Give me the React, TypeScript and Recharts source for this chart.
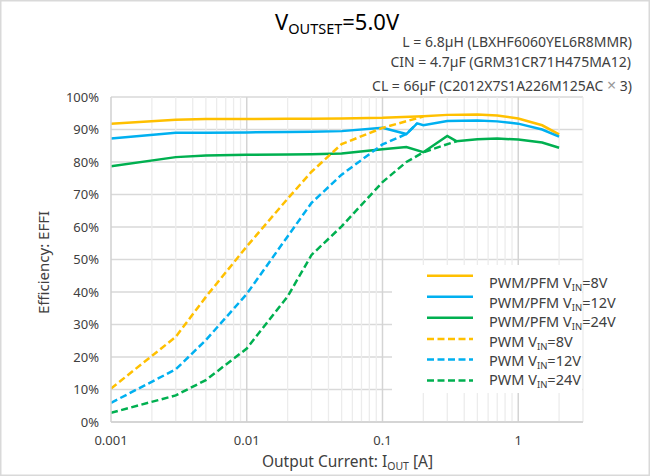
import React from 'react';
import { LineChart, Line, XAxis, YAxis, CartesianGrid, ReferenceLine } from 'recharts';

const FONT = "'Noto Sans', sans-serif";

const X_TICKS = [0.001, 0.01, 0.1, 1];
const Y_TICKS = [0, 10, 20, 30, 40, 50, 60, 70, 80, 90, 100];
const MAJOR_X = [0.01, 0.1, 1];
const MINOR_X = [
  0.002, 0.003, 0.004, 0.005, 0.006, 0.007, 0.008, 0.009,
  0.02, 0.03, 0.04, 0.05, 0.06, 0.07, 0.08, 0.09,
  0.2, 0.3, 0.4, 0.5, 0.6, 0.7, 0.8, 0.9,
  2, 3,
];

const pfm8 = [
  { x: 0.001, y: 91.8 }, { x: 0.003, y: 93.0 }, { x: 0.005, y: 93.2 }, { x: 0.01, y: 93.2 },
  { x: 0.02, y: 93.3 }, { x: 0.03, y: 93.3 }, { x: 0.05, y: 93.4 }, { x: 0.1, y: 93.6 },
  { x: 0.2, y: 94.1 }, { x: 0.3, y: 94.5 }, { x: 0.5, y: 94.6 }, { x: 0.7, y: 94.3 },
  { x: 1, y: 93.4 }, { x: 1.5, y: 91.3 }, { x: 2, y: 88.5 },
];
const pfm12 = [
  { x: 0.001, y: 87.2 }, { x: 0.003, y: 89.0 }, { x: 0.005, y: 89.0 }, { x: 0.01, y: 89.1 },
  { x: 0.02, y: 89.2 }, { x: 0.03, y: 89.3 }, { x: 0.05, y: 89.5 }, { x: 0.1, y: 90.5 },
  { x: 0.15, y: 88.6 }, { x: 0.18, y: 91.9 }, { x: 0.2, y: 91.3 }, { x: 0.3, y: 92.6 },
  { x: 0.5, y: 92.8 }, { x: 0.7, y: 92.5 }, { x: 1, y: 91.8 }, { x: 1.5, y: 90.0 }, { x: 2, y: 87.8 },
];
const pfm24 = [
  { x: 0.001, y: 78.7 }, { x: 0.003, y: 81.5 }, { x: 0.005, y: 82.0 }, { x: 0.01, y: 82.2 },
  { x: 0.02, y: 82.3 }, { x: 0.03, y: 82.4 }, { x: 0.05, y: 82.6 }, { x: 0.1, y: 83.9 },
  { x: 0.15, y: 84.6 }, { x: 0.2, y: 83.0 }, { x: 0.3, y: 88.0 }, { x: 0.35, y: 86.4 },
  { x: 0.5, y: 87.0 }, { x: 0.7, y: 87.2 }, { x: 1, y: 86.9 }, { x: 1.5, y: 86.0 }, { x: 2, y: 84.4 },
];
const pwm8 = [
  { x: 0.001, y: 10.3 }, { x: 0.003, y: 26.2 }, { x: 0.005, y: 38.5 }, { x: 0.01, y: 54.0 },
  { x: 0.02, y: 68.7 }, { x: 0.03, y: 77.0 }, { x: 0.05, y: 85.5 }, { x: 0.1, y: 90.5 },
  { x: 0.2, y: 94.0 },
];
const pwm12 = [
  { x: 0.001, y: 5.9 }, { x: 0.003, y: 16.2 }, { x: 0.005, y: 25.2 }, { x: 0.01, y: 39.4 },
  { x: 0.02, y: 57.1 }, { x: 0.03, y: 67.4 }, { x: 0.05, y: 76.1 }, { x: 0.1, y: 85.4 },
  { x: 0.15, y: 88.6 }, { x: 0.18, y: 91.9 },
];
const pwm24 = [
  { x: 0.001, y: 2.8 }, { x: 0.003, y: 8.2 }, { x: 0.005, y: 12.9 }, { x: 0.01, y: 22.6 },
  { x: 0.02, y: 38.6 }, { x: 0.03, y: 51.4 }, { x: 0.05, y: 60.2 }, { x: 0.1, y: 73.8 },
  { x: 0.15, y: 80.0 }, { x: 0.2, y: 83.0 }, { x: 0.35, y: 86.4 },
];

const ORANGE = '#FFC000';
const BLUE = '#00B0F0';
const GREEN = '#00B050';

const SERIES = [
  { key: 'pfm8', mode: 'PWM/PFM', vin: '8V', color: ORANGE, dashed: false, data: pfm8 },
  { key: 'pfm12', mode: 'PWM/PFM', vin: '12V', color: BLUE, dashed: false, data: pfm12 },
  { key: 'pfm24', mode: 'PWM/PFM', vin: '24V', color: GREEN, dashed: false, data: pfm24 },
  { key: 'pwm8', mode: 'PWM', vin: '8V', color: ORANGE, dashed: true, data: pwm8 },
  { key: 'pwm12', mode: 'PWM', vin: '12V', color: BLUE, dashed: true, data: pwm12 },
  { key: 'pwm24', mode: 'PWM', vin: '24V', color: GREEN, dashed: true, data: pwm24 },
];

const LEGEND_LINE_Y = [275.7, 296.7, 317.7, 339, 359.5, 380.5];
const LEGEND_TEXT_Y = [283, 302.5, 322, 341.5, 360.5, 380];

const TEXT = '#404040';

export default function App() {
  return (
    <div style={{ position: 'relative', width: 650, height: 476, background: '#fff', fontFamily: FONT }}>
      <style>{`body{margin:0}`}</style>
      <LineChart width={650} height={476} margin={{ top: 97, right: 67, bottom: 0, left: 0 }}>
        <CartesianGrid vertical={false} stroke="#d9d9d9" strokeWidth={1.3} />
        {MINOR_X.map((v) => (
          <ReferenceLine key={'mi' + v} x={v} stroke="#ececec" strokeWidth={1.3} />
        ))}
        {MAJOR_X.map((v) => (
          <ReferenceLine key={'ma' + v} x={v} stroke="#d4d4d4" strokeWidth={1.5} />
        ))}
        <XAxis
          dataKey="x"
          type="number"
          scale="log"
          domain={[0.001, 3]}
          allowDataOverflow
          ticks={X_TICKS}
          tickFormatter={(v) => String(v)}
          height={54}
          tickLine={false}
          tickSize={0}
          tickMargin={14}
          stroke="#d0d0d0"
          strokeWidth={1.5}
          tick={{ fill: TEXT, fontSize: 13, fontFamily: FONT }}
        />
        <YAxis
          type="number"
          domain={[0, 100]}
          ticks={Y_TICKS}
          tickFormatter={(v) => v + '%'}
          width={111}
          tickLine={false}
          tickSize={0}
          tickMargin={12}
          stroke="#d0d0d0"
          strokeWidth={1.5}
          tick={{ fill: TEXT, fontSize: 13, fontFamily: FONT }}
        />
        {SERIES.map((s) => (
          <Line
            key={s.key}
            data={s.data}
            dataKey="y"
            type="linear"
            stroke={s.color}
            strokeWidth={2.5}
            strokeDasharray={s.dashed ? '7 3.5' : undefined}
            dot={false}
            activeDot={false}
            isAnimationActive={false}
          />
        ))}
      </LineChart>
      <svg
        width={650}
        height={476}
        style={{ position: 'absolute', left: 0, top: 0, pointerEvents: 'none' }}
        fontFamily={FONT}
      >
        <rect x={0.75} y={0.75} width={648.5} height={474.5} fill="none" stroke="#d9d9d9" strokeWidth={1.5} />
        <text x={275} y={30} fontSize={22} fill="#000">
          V<tspan fontSize={14.5} dy={4}>OUTSET</tspan>
          <tspan dy={-4}>=5.0V</tspan>
        </text>
        <text x={632} y={47.3} fontSize={14} fill={TEXT} textAnchor="end">
          L = 6.8µH (LBXHF6060YEL6R8MMR)
        </text>
        <text x={631} y={66.7} fontSize={14} fill={TEXT} textAnchor="end">
          CIN = 4.7µF (GRM31CR71H475MA12)
        </text>
        <text x={632} y={90.5} fontSize={14} fill={TEXT} textAnchor="end">
          CL = 66µF (C2012X7S1A226M125AC <tspan fill="#999" fontSize={16}>×</tspan> 3)
        </text>
        <text
          x={0}
          y={0}
          fontSize={15}
          fill={TEXT}
          textAnchor="middle"
          dominantBaseline="central"
          transform="translate(43 262.5) rotate(-90)"
        >
          Efficiency: EFFI
        </text>
        <text x={347.5} y={467.3} fontSize={15.5} fill={TEXT} textAnchor="middle">
          Output Current: I<tspan fontSize={10.5} dy={3}>OUT</tspan>
          <tspan dy={-3}> [A]</tspan>
        </text>
        <rect x={392} y={265} width={190} height={128} fill="#fff" />
        {SERIES.map((s, i) => (
          <g key={'lg' + s.key}>
            <line
              x1={427}
              x2={473}
              y1={LEGEND_LINE_Y[i]}
              y2={LEGEND_LINE_Y[i]}
              stroke={s.color}
              strokeWidth={2.5}
              strokeDasharray={s.dashed ? '7 3.5' : undefined}
            />
            <text x={489} y={LEGEND_TEXT_Y[i] + 5} fontSize={14.5} fill={TEXT}>
              {s.mode} V<tspan fontSize={9.5} dy={3}>IN</tspan>
              <tspan dy={-3}>={s.vin}</tspan>
            </text>
          </g>
        ))}
      </svg>
    </div>
  );
}
